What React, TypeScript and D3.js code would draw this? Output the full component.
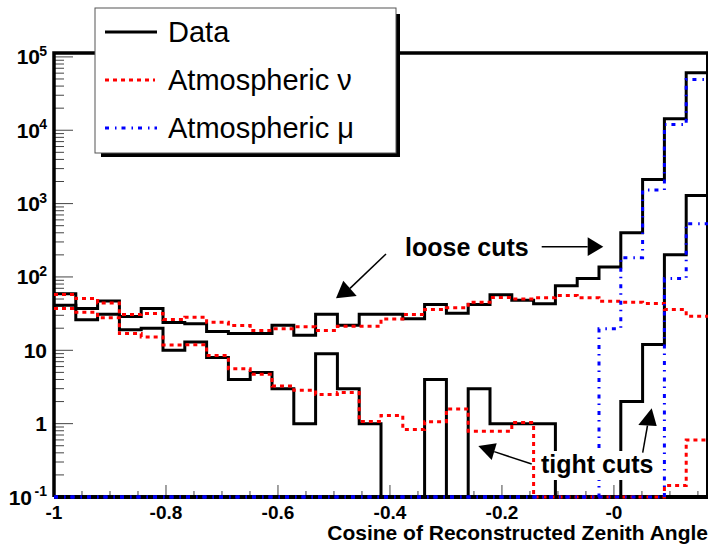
import React from "react";
import * as d3 from "d3";

const W = 709;
const H = 548;
const xLo = -1;
const xHi = 0.168;
const nBins = 30;
const FONT = "'Liberation Sans', Arial, Helvetica, sans-serif";

// histogram contents, 30 bins from -1 to ~0.17
const dataLoose = [59, 37, 47, 29, 37, 24, 23, 18, 17, 17, 22, 16, 31, 22, 31, 31, 27, 42, 32, 42, 57, 48, 43, 76, 95, 137, 400, 2130, 14350, 60850];
const dataTight = [41, 26, 31, 19, 20, 10, 13, 8, 4, 5, 3, 1, 9, 3, 1, 0, 0, 4, 0, 3, 1, 1, 1, 0, 0, 0, 2, 12, 200, 1290];
const nuLoose = [57.5, 50.7, 44.3, 30.7, 31.7, 26.2, 28.2, 24.1, 21.7, 18.6, 19.6, 20.9, 18.6, 21.3, 21.3, 26.8, 30.7, 35.9, 37.9, 45.2, 52.4, 49.9, 51.9, 55.7, 51.9, 46.6, 45.2, 43.4, 35.9, 29.1];
const nuTight = [37, 33, 27.7, 16.9, 15.2, 11.8, 11.9, 8.5, 5.6, 4.7, 3.25, 2.85, 2.5, 2.65, 1.07, 1.29, 0.83, 1.06, 1.59, 0.79, 0.79, 1.04, 0, 0, 0, 0, 0, 0, 0.143, 0.6];
const muLoose = [0, 0, 0, 0, 0, 0, 0, 0, 0, 0, 0, 0, 0, 0, 0, 0, 0, 0, 0, 0, 0, 0, 0, 0, 0, 19.6, 182, 1535, 12000, 49300];
const muTight = [0, 0, 0, 0, 0, 0, 0, 0, 0, 0, 0, 0, 0, 0, 0, 0, 0, 0, 0, 0, 0, 0, 0, 0, 0, 0, 0, 0, 95, 532];

const xTickValues = [-1, -0.8, -0.6, -0.4, -0.2, 0];
const xTickLabels = ["-1", "-0.8", "-0.6", "-0.4", "-0.2", "-0"];
const yTickValues = [0.1, 1, 10, 100, 1e3, 1e4, 1e5];
const yTickBases = ["10", "1", "10", "10", "10", "10", "10"];
const yTickExps = ["-1", "", "", "2", "3", "4", "5"];

const legendLabels = ["Data", "Atmospheric \u03bd", "Atmospheric \u03bc"];

const RED_DASH = "4 4";
const BLUE_DASH = "4 6 1.5 5";

export default function App() {
  const x = d3.scaleLinear().domain([xLo, xHi]).range([54, 708]);
  const y = d3.scaleLog().domain([0.1, 1.13e5]).range([497, 53]);
  const edges = d3.range(nBins + 1).map((i) => xLo + (i * (xHi - xLo)) / nBins);

  const histPath = (vals: number[]) => {
    const pts: [number, number][] = [];
    vals.forEach((v, i) => {
      const yy = y(Math.max(v, 0.1));
      pts.push([x(edges[i]), yy], [x(edges[i + 1]), yy]);
    });
    return d3.line()(pts) || "";
  };

  // minor ticks
  const yMinor: number[] = [];
  [0.1, 1, 10, 100, 1e3, 1e4].forEach((d) => {
    for (let k = 2; k <= 9; k++) yMinor.push(d * k);
  });
  const xMinor = d3.range(-1, 0.17, 0.05).filter((v) => Math.abs(Math.round(v * 5) - v * 5) > 1e-6);

  const [x0, x1] = x.range();
  const [yb, yt] = y.range();

  const arrow = (x1a: number, y1a: number, tip: [number, number], b1: [number, number], b2: [number, number], key: string) => (
    <g key={key}>
      <line x1={x1a} y1={y1a} x2={(b1[0] + b2[0]) / 2} y2={(b1[1] + b2[1]) / 2} stroke="#000" strokeWidth={1.5} />
      <polygon points={[tip, b1, b2].map((p) => p.join(",")).join(" ")} fill="#000" />
    </g>
  );

  return (
    <svg width={W} height={H} style={{ position: "absolute", left: 0, top: 0, background: "#fff" }} fontFamily={FONT}>
      <defs>
        <clipPath id="plot">
          <rect x={x0} y={yt - 2} width={x1 - x0} height={yb - yt + 4} />
        </clipPath>
      </defs>
      <rect width={W} height={H} fill="#fff" />

      {/* ticks */}
      <g stroke="#444" strokeWidth={1}>
        {yTickValues.map((v) => (
          <line key={"ym" + v} x1={x0} x2={x0 + 19} y1={y(v)} y2={y(v)} />
        ))}
        {yMinor.map((v) => (
          <line key={"yn" + v} x1={x0} x2={x0 + 10} y1={y(v)} y2={y(v)} />
        ))}
        {xTickValues.map((v) => (
          <line key={"xm" + v} x1={x(v)} x2={x(v)} y1={yb} y2={yb - 12} />
        ))}
        {xMinor.map((v) => (
          <line key={"xn" + v} x1={x(v)} x2={x(v)} y1={yb} y2={yb - 6} />
        ))}
      </g>

      {/* frame */}
      <path d={`M${x0},${yb}V${yt}H${x1}`} fill="none" stroke="#000" strokeWidth={3.5} />
      <line x1={x1 - 1} x2={x1 - 1} y1={yt} y2={yb} stroke="#000" strokeWidth={2} />
      <line x1={x0} x2={x1} y1={yb} y2={yb} stroke="#000" strokeWidth={4} />

      {/* histograms */}
      <g clipPath="url(#plot)" fill="none" strokeLinejoin="miter">
        <path d={histPath(dataLoose)} stroke="#000" strokeWidth={3} />
        <path d={histPath(dataTight)} stroke="#000" strokeWidth={3} />
        <path d={histPath(nuLoose)} stroke="#f00" strokeWidth={3} strokeDasharray={RED_DASH} />
        <path d={histPath(nuTight)} stroke="#f00" strokeWidth={3} strokeDasharray={RED_DASH} />
        <path d={histPath(muLoose)} stroke="#00f" strokeWidth={3} strokeDasharray={BLUE_DASH} />
        <path d={histPath(muTight)} stroke="#00f" strokeWidth={3} strokeDasharray={BLUE_DASH} />
      </g>

      {/* y labels */}
      <g fontWeight="bold" fill="#000">
        {yTickValues.map((v, i) => (
          <text key={"yl" + v} x={yTickExps[i] ? 47 - (yTickExps[i].length > 1 ? 15 : 7) : 47} y={y(v) + 7.5} fontSize={21} textAnchor="end">
            {yTickBases[i]}
          </text>
        ))}
        {yTickValues.map((v, i) =>
          yTickExps[i] ? (
            <text key={"ye" + v} x={47} y={y(v) - 1} fontSize={14} textAnchor="end">
              {yTickExps[i]}
            </text>
          ) : null
        )}
        {xTickValues.map((v, i) => (
          <text key={"xl" + v} x={x(v)} y={518.5} fontSize={19} textAnchor="middle">
            {xTickLabels[i]}
          </text>
        ))}
        <text x={708} y={540} fontSize={21} textAnchor="end">
          Cosine of Reconstructed Zenith Angle
        </text>
      </g>

      {/* annotations */}
      <rect x={539} y={451} width={116} height={29} fill="#fff" />
      <g fontWeight="bold" fontSize={25} fill="#000">
        <text x={405} y={256}>loose cuts</text>
        <text x={541} y={473}>tight cuts</text>
      </g>
      {arrow(386, 254, [336, 298.3], [343.3, 280.7], [356.7, 296], "a1")}
      {arrow(541.7, 246.7, [603.3, 246.7], [587.7, 237.3], [587.7, 256], "a2")}
      {arrow(531.7, 464, [478.3, 446], [491.7, 460], [496.7, 443.3], "a3")}
      {arrow(642.7, 452.7, [651.7, 408.3], [638.3, 425], [656.7, 426], "a4")}

      {/* legend */}
      <rect x={101} y={14} width={299} height={143} fill="#000" />
      <rect x={95} y={8} width={301} height={145} fill="#fff" stroke="#555" strokeWidth={1} />
      <line x1={105} x2={157} y1={32} y2={32} stroke="#000" strokeWidth={3} />
      <line x1={105} x2={155} y1={80} y2={80} stroke="#f00" strokeWidth={3} strokeDasharray={RED_DASH} />
      <line x1={105} x2={157} y1={128} y2={128} stroke="#00f" strokeWidth={3} strokeDasharray={BLUE_DASH} />
      {legendLabels.map((l, i) => (
        <text key={l} x={168} y={42 + i * 48} fontSize={29} fill="#000">
          {l}
        </text>
      ))}
    </svg>
  );
}
